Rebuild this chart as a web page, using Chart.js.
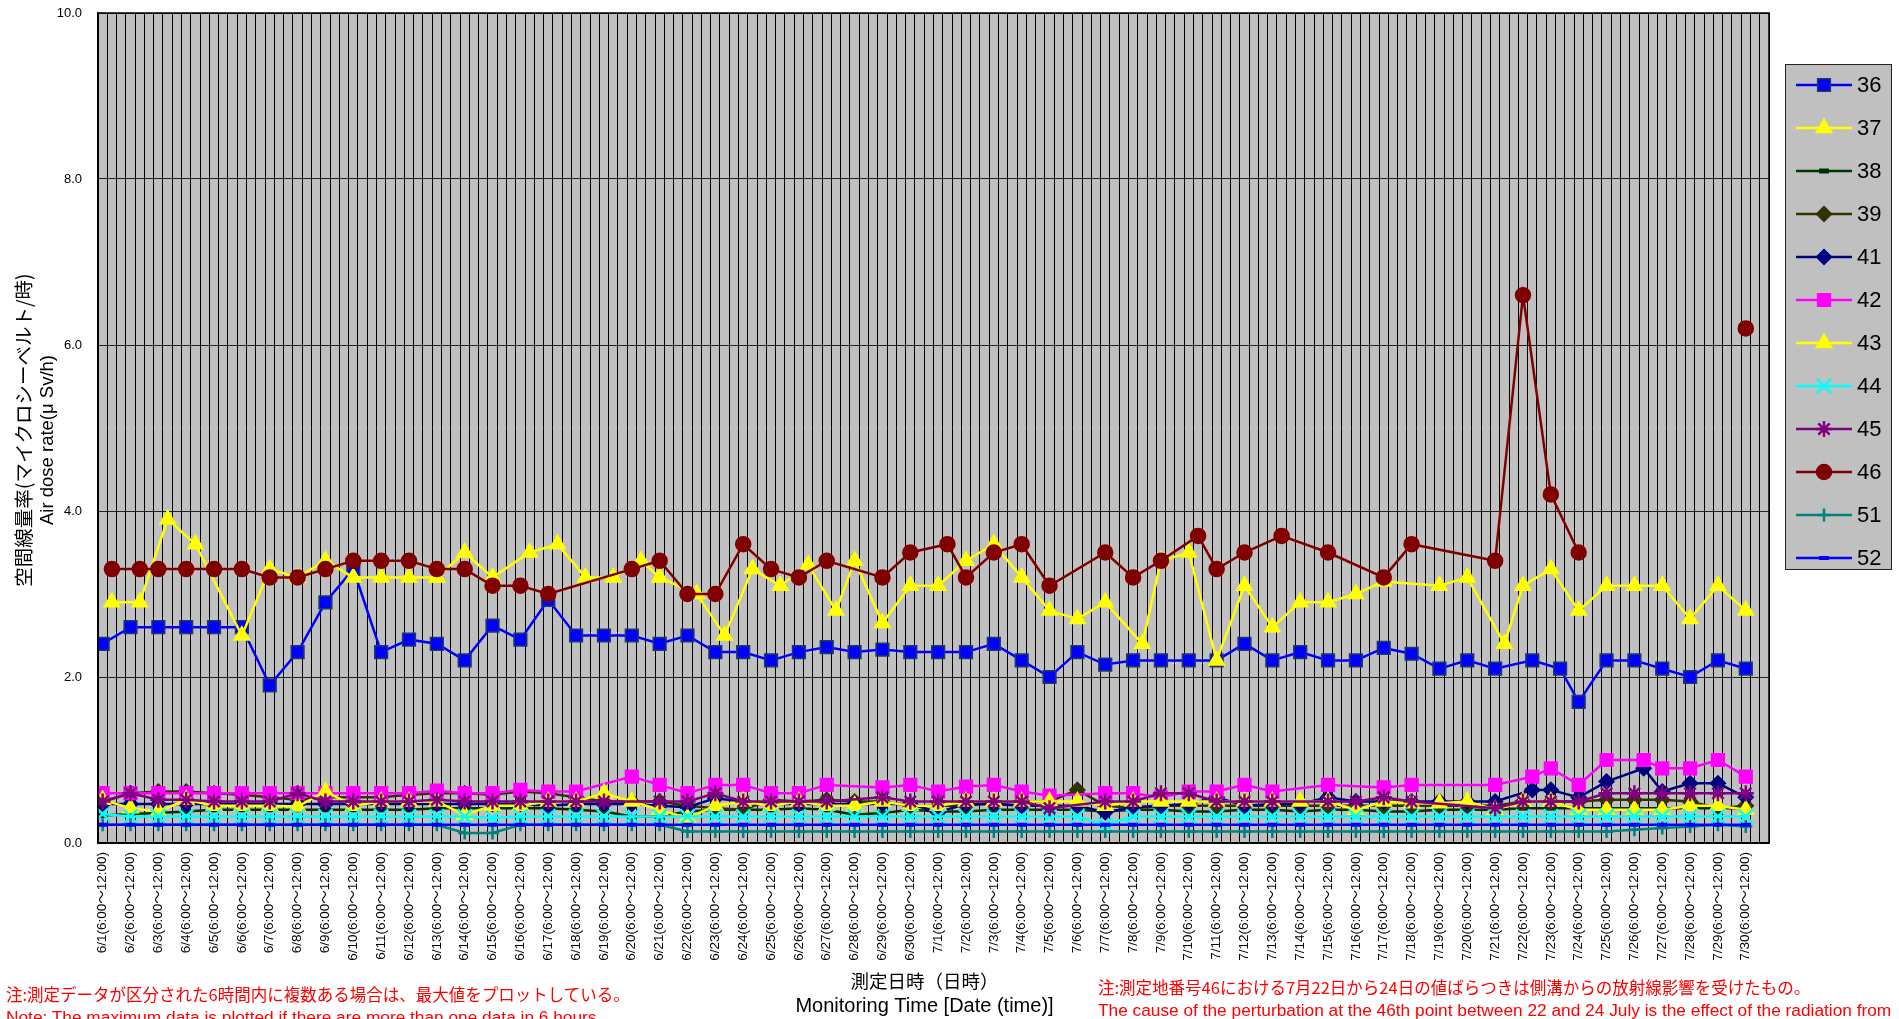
<!DOCTYPE html>
<html lang="ja">
<head>
<meta charset="UTF-8">
<title>空間線量率</title>
<script src="https://cdn.jsdelivr.net/npm/chart.js"></script>
<style>
  body { margin: 0; background: #fff; }
  #wrap { position: relative; width: 1899px; height: 1019px; overflow: hidden; }
  .note { position: absolute; color: #ff0000; white-space: nowrap; font-size: 16.5px; line-height: 22px;
          font-family: 'Noto Sans CJK JP', sans-serif; }
  .note .en { font-family: 'Liberation Sans', Arial, sans-serif; font-size: 17.3px; }
</style>
</head>
<body>
<div id="wrap">
  <canvas id="doseChart" width="1899" height="1019"></canvas>
  <div class="note" style="left:6px; top:983px;">注:測定データが区分された6時間内に複数ある場合は、最大値をプロットしている。<br><span class="en">Note: The maximum data is plotted if there are more than one data in 6 hours.</span></div>
  <div class="note" style="left:1098px; top:976px;">注:測定地番号46における7月22日から24日の値ばらつきは側溝からの放射線影響を受けたもの。<br><span class="en">The cause of the perturbation at the 46th point between 22 and 24 July is the effect of the radiation from</span></div>
</div>
<script>
// measurement days (one tick label per day, 3 grid slots per day)
const days = ['6/1','6/2','6/3','6/4','6/5','6/6','6/7','6/8','6/9','6/10',
  '6/11','6/12','6/13','6/14','6/15','6/16','6/17','6/18','6/19','6/20',
  '6/21','6/22','6/23','6/24','6/25','6/26','6/27','6/28','6/29','6/30',
  '7/1','7/2','7/3','7/4','7/5','7/6','7/7','7/8','7/9','7/10',
  '7/11','7/12','7/13','7/14','7/15','7/16','7/17','7/18','7/19','7/20',
  '7/21','7/22','7/23','7/24','7/25','7/26','7/27','7/28','7/29','7/30'];
const timeRange = '(6:00～12:00)';
const yTicks = [0, 2, 4, 6, 8, 10];

// values per day (µSv/h), null = no measurement
const s36 = [2.4,2.6,2.6,2.6,2.6,2.6,1.9,2.3,2.9,3.3, 2.3,2.45,2.4,2.2,2.62,2.45,2.93,2.5,2.5,2.5,
  2.4,2.5,2.3,2.3,2.2,2.3,2.36,2.3,2.33,2.3, 2.3,2.3,2.4,2.2,2.0,2.3,2.15,2.2,2.2,2.2,
  2.2,2.4,2.2,2.3,2.2,2.2,2.35,2.28,2.1,2.2, 2.1,2.2,2.1,1.7,2.2,2.2,2.1,2.0,2.2,2.1];
const s37 = [2.9,2.9,3.9,3.6,null,2.5,3.3,3.2,3.4,3.2, 3.2,3.2,3.2,3.5,3.2,3.5,3.6,3.2,3.2,3.4,
  3.2,3.0,2.5,3.3,3.1,3.35,2.8,3.4,2.65,3.1, 3.1,3.4,3.6,3.2,2.8,2.7,2.9,2.4,3.4,3.5,
  2.2,3.1,2.6,2.9,2.9,3.0,3.15,null,3.1,3.2, 2.4,3.1,3.3,2.8,3.1,3.1,3.1,2.7,3.1,2.8];
const s38 = [0.33,0.35,0.36,0.38,0.4,0.4,0.4,0.4,0.4,0.4, 0.4,0.4,0.42,0.42,0.42,0.42,0.42,0.4,0.38,0.32,
  0.32,0.38,0.4,0.4,0.4,0.42,0.4,0.34,0.36,0.4, 0.38,0.38,0.4,0.4,0.4,0.4,0.38,0.4,0.4,0.38,
  0.38,0.4,0.4,0.38,0.4,0.4,0.38,0.38,0.4,0.4, 0.4,0.42,0.42,0.42,0.42,0.42,0.42,0.42,0.42,0.42];
const s39 = [0.5,0.6,0.62,0.62,0.6,0.58,0.55,0.52,0.55,0.55, 0.55,0.58,0.6,0.6,0.58,0.62,0.6,0.55,0.5,0.5,
  0.5,0.45,0.42,0.4,0.52,0.5,0.52,0.5,0.5,0.45, 0.45,0.45,0.48,0.5,0.5,0.64,0.45,0.42,0.45,0.45,
  0.45,0.45,0.45,0.45,0.45,0.45,0.45,0.45,0.45,0.45, 0.45,0.5,0.5,0.5,0.52,0.52,0.52,0.5,0.42,0.45];
const s41 = [0.47,0.47,0.47,0.47,0.47,0.47,0.47,0.47,0.47,0.47, 0.47,0.47,0.47,0.47,0.47,0.47,0.45,0.47,0.47,0.47,
  0.45,0.43,0.54,0.5,0.47,0.47,0.47,0.47,0.47,0.47, 0.37,0.47,0.47,0.45,0.45,0.45,0.37,0.43,0.45,0.47,
  0.55,0.45,0.47,0.47,0.55,0.5,0.5,0.5,0.5,0.5, 0.5,0.64,0.64,0.55,0.74,0.9,0.62,0.72,0.72,0.55];
const s42 = [0.6,0.6,0.6,0.6,0.6,0.6,0.6,0.6,0.6,0.6, 0.6,0.6,0.63,0.6,0.6,0.64,0.62,0.62,null,0.8,
  0.7,0.6,0.7,0.7,0.6,0.6,0.7,null,0.67,0.7, 0.62,0.68,0.7,0.62,0.57,null,0.6,0.6,0.55,0.62,
  0.62,0.7,0.62,null,0.7,null,0.67,0.7,null,null, 0.7,0.8,0.9,0.7,1.0,1.0,0.9,0.9,1.0,0.8];
const s43 = [0.52,0.42,0.38,0.52,0.45,0.45,0.45,0.44,0.62,0.45, 0.5,0.5,0.5,0.34,0.45,0.45,0.5,0.5,0.6,0.5,
  0.4,0.3,0.45,0.5,0.45,0.5,0.45,0.45,0.5,0.45, 0.45,0.5,0.5,0.5,0.5,0.5,0.45,0.5,0.5,0.5,
  0.5,0.5,0.5,0.5,0.5,0.4,0.5,0.48,0.48,0.5, 0.4,0.5,0.5,0.4,0.4,0.4,0.4,0.45,0.45,0.4];
const s44 = [0.35,0.32,0.32,0.32,0.32,0.32,0.32,0.32,0.32,0.32, 0.32,0.32,0.32,0.32,0.3,0.32,0.32,0.32,0.32,0.32,
  0.32,0.32,0.32,0.32,0.32,0.32,0.32,0.32,0.32,0.32, 0.32,0.32,0.32,0.32,0.32,0.32,0.22,0.32,0.32,0.32,
  0.32,0.32,0.32,0.32,0.32,0.32,0.32,0.32,0.32,0.32, 0.32,0.32,0.32,0.32,0.32,0.32,0.32,0.32,0.32,0.32];
const s45 = [0.5,0.6,0.52,0.52,0.5,0.5,0.5,0.6,0.5,0.5, 0.5,0.5,0.52,0.5,0.5,0.5,0.5,0.5,0.5,null,
  0.5,0.5,0.6,0.5,0.5,0.5,0.5,null,0.55,0.5, 0.5,0.5,0.5,0.5,0.42,null,0.5,0.5,0.6,0.6,
  0.5,0.5,0.5,null,0.5,0.5,0.55,0.5,null,null, 0.42,0.5,0.5,0.5,0.6,0.6,0.6,0.6,0.6,0.6];
const s46 = [3.3,3.3,3.3,3.3,3.3,3.3,3.2,3.2,3.3,3.4, 3.4,3.4,3.3,3.3,3.1,3.1,3.0,null,null,3.3,
  3.4,3.0,3.0,3.6,3.3,3.2,3.4,null,3.2,3.5, 3.6,3.2,3.5,3.6,3.1,null,3.5,3.2,3.4,3.7,
  3.3,3.5,3.7,null,3.5,null,3.2,3.6,null,null, 3.4,6.6,4.2,3.5,null,null,null,null,null,6.2];
const s51 = [0.22,0.22,0.22,0.22,0.22,0.22,0.22,0.22,0.22,0.22, 0.22,0.22,0.22,0.12,0.12,0.22,0.22,0.22,0.22,0.22,
  0.22,0.14,0.14,0.14,0.14,0.14,0.14,0.14,0.14,0.14, 0.14,0.14,0.14,0.14,0.14,0.14,0.14,0.14,0.14,0.14,
  0.14,0.14,0.14,0.14,0.14,0.14,0.14,0.14,0.14,0.14, 0.14,0.14,0.14,0.14,0.14,0.16,0.18,0.2,0.22,0.2];
const s52 = [0.22,0.22,0.22,0.22,0.22,0.22,0.22,0.22,0.22,0.22, 0.22,0.22,0.22,0.22,0.22,0.22,0.22,0.22,0.22,0.22,
  0.22,0.22,0.22,0.22,0.22,0.22,0.22,0.22,0.22,0.22, 0.22,0.22,0.22,0.22,0.22,0.22,0.22,0.22,0.22,0.22,
  0.22,0.22,0.22,0.22,0.22,0.22,0.22,0.22,0.22,0.22, 0.22,0.22,0.22,0.22,0.22,0.22,0.22,0.22,0.22,0.22];

// which of the 3 daily slots a reading sits in (day index -> slot), default slot 0
const slot36 = {51: 1, 52: 1};
const slot37 = {0: 1, 1: 1, 2: 1, 3: 1, 15: 1, 16: 1, 17: 1, 18: 1, 19: 1, 21: 1, 22: 1, 23: 1,
  24: 1, 25: 1, 26: 1, 37: 1, 50: 1};
const slot41 = {51: 1, 55: 1};
const slot42 = {51: 1, 55: 1};
const slot46 = {0: 1, 1: 1, 30: 1, 39: 1, 42: 1};

function points(values, slots) {
  const out = [];
  values.forEach((v, i) => {
    if (v !== null) out.push({x: i * 3 + ((slots && slots[i]) || 0) + 0.5, y: v});
  });
  return out;
}

const seriesDefs = [
  {label: '36', data: points(s36, slot36), color: '#0000ff', fill: '#0000ff', edge: '#1f3864', style: 'rect', r: 9},
  {label: '37', data: points(s37, slot37), color: '#ffff00', fill: '#ffff00', edge: '#ffff00', style: 'triangle', r: 9},
  {label: '38', data: points(s38), color: '#003300', fill: '#003300', edge: '#003300', style: 'line', r: 5, bw: 5},
  {label: '39', data: points(s39), color: '#333300', fill: '#333300', edge: '#333300', style: 'rectRot', r: 7.5},
  {label: '41', data: points(s41, slot41), color: '#000080', fill: '#000080', edge: '#000080', style: 'rectRot', r: 7.5},
  {label: '42', data: points(s42, slot42), color: '#ff00ff', fill: '#ff00ff', edge: '#ff00ff', style: 'rect', r: 9},
  {label: '43', data: points(s43), color: '#ffff00', fill: '#ffff00', edge: '#ffff00', style: 'triangle', r: 9},
  {label: '44', data: points(s44), color: '#00ffff', fill: '#00ffff', edge: '#00ffff', style: 'crossRot', r: 10, bw: 2.5},
  {label: '45', data: points(s45), color: '#800080', fill: '#800080', edge: '#800080', style: 'star', r: 8, bw: 2.5},
  {label: '46', data: points(s46, slot46), color: '#800000', fill: '#800000', edge: '#800000', style: 'circle', r: 7.5, gap: 12},
  {label: '51', data: points(s51), color: '#008080', fill: '#008080', edge: '#008080', style: 'cross', r: 6.5, bw: 2.5},
  {label: '52', data: points(s52), color: '#0000ff', fill: '#0000ff', edge: '#0000ff', style: 'line', r: 5, bw: 4}
];

const datasets = seriesDefs.map((s, i) => ({
  label: s.label,
  data: s.data,
  borderColor: s.color,
  borderWidth: 2.5,
  backgroundColor: s.fill,
  pointStyle: s.style,
  pointRadius: s.r,
  pointBackgroundColor: s.fill,
  pointBorderColor: s.edge,
  pointBorderWidth: s.bw || 1.5,
  tension: 0,
  spanGaps: s.gap || true,
  order: seriesDefs.length - i
}));

const plotBackground = {
  id: 'plotBackground',
  beforeDraw(chart) {
    const {ctx, chartArea: a} = chart;
    ctx.save();
    ctx.fillStyle = '#ffffff';
    ctx.fillRect(0, 0, chart.width, chart.height);
    ctx.fillStyle = '#c0c0c0';
    ctx.fillRect(a.left, a.top, a.right - a.left, a.bottom - a.top);
    ctx.restore();
  },
  afterDraw(chart) {
    const {ctx, chartArea: a} = chart;
    ctx.save();
    ctx.strokeStyle = '#000';
    ctx.lineWidth = 1.5;
    ctx.strokeRect(a.left, a.top, a.right - a.left, a.bottom - a.top);
    ctx.restore();
  }
};

// axis titles: two lines each, Japanese + English in different fonts
const axisTitles = {
  id: 'axisTitles',
  afterDraw(chart) {
    const {ctx, chartArea: a} = chart;
    const midY = (a.top + a.bottom) / 2;
    const midX = (a.left + a.right) / 2 - 9;
    ctx.save();
    ctx.fillStyle = '#000';
    ctx.textAlign = 'center';
    ctx.textBaseline = 'middle';
    ctx.save();
    ctx.translate(24, midY + 2);
    ctx.rotate(-Math.PI / 2);
    ctx.font = "19.5px 'Noto Sans CJK JP', sans-serif";
    ctx.fillText('空間線量率(マイクロシーベルト/時)', 0, 0);
    ctx.restore();
    ctx.save();
    ctx.translate(48, midY + 12);
    ctx.rotate(-Math.PI / 2);
    ctx.font = "18.5px 'Liberation Sans', Arial, sans-serif";
    ctx.fillText('Air dose rate(μ Sv/h)', 0, 0);
    ctx.restore();
    ctx.font = "18.5px 'Noto Sans CJK JP', sans-serif";
    ctx.fillText('測定日時（日時）', midX, 981);
    ctx.font = "20px 'Liberation Sans', Arial, sans-serif";
    ctx.fillText('Monitoring Time [Date (time)]', midX, 1006);
    ctx.restore();
  }
};

// line + marker legend box at the right
const sideLegend = {
  id: 'sideLegend',
  afterDraw(chart) {
    const ctx = chart.ctx;
    const left = 1785, top = 64, right = 1891, bottom = 569;
    ctx.save();
    ctx.fillStyle = '#c0c0c0';
    ctx.fillRect(left, top, right - left, bottom - top);
    ctx.strokeStyle = '#222';
    ctx.lineWidth = 1;
    ctx.strokeRect(left + 0.5, top + 0.5, right - left, bottom - top);
    chart.data.datasets.forEach((ds, i) => {
      const y = 85 + i * 43;
      ctx.strokeStyle = ds.borderColor;
      ctx.lineWidth = 2.5;
      ctx.beginPath();
      ctx.moveTo(1796, y);
      ctx.lineTo(1852, y);
      ctx.stroke();
      ctx.fillStyle = ds.pointBackgroundColor;
      ctx.strokeStyle = ds.pointBorderColor;
      ctx.lineWidth = ds.pointBorderWidth;
      Chart.helpers.drawPoint(ctx, {pointStyle: ds.pointStyle, radius: ds.pointRadius, rotation: 0, borderWidth: ds.pointBorderWidth}, 1824, y);
      ctx.fillStyle = '#000';
      ctx.font = "22px 'Liberation Sans', Arial, sans-serif";
      ctx.textBaseline = 'middle';
      ctx.textAlign = 'left';
      ctx.fillText(ds.label, 1857, y + 1);
    });
    ctx.restore();
  }
};

new Chart(document.getElementById('doseChart'), {
  type: 'line',
  data: {datasets: datasets},
  plugins: [plotBackground, axisTitles, sideLegend],
  options: {
    responsive: false,
    animation: false,
    layout: {padding: {top: 13, right: 130, bottom: 0, left: 0}},
    plugins: {legend: {display: false}, tooltip: {enabled: false}},
    scales: {
      x: {
        type: 'linear',
        min: 0, max: days.length * 3,
        afterFit: (s) => { s.height = 176; },
        afterBuildTicks: (s) => { s.ticks = Array.from({length: days.length * 3 + 1}, (_, k) => ({value: k})); },
        grid: {color: '#000', lineWidth: 1, drawTicks: false},
        border: {color: '#000', width: 1.5},
        ticks: {
          autoSkip: false, minRotation: 90, maxRotation: 90, padding: 9, color: '#000',
          labelOffset: 4.6,
          font: {family: "'Liberation Sans', 'Noto Sans CJK JP', sans-serif", size: 13.5},
          callback: (v) => (v % 3 === 0 && v / 3 < days.length) ? days[v / 3] + timeRange : ''
        }
      },
      y: {
        min: 0, max: 10,
        afterFit: (s) => { s.width = 98; },
        afterBuildTicks: (s) => { s.ticks = yTicks.map(v => ({value: v})); },
        grid: {color: '#222', lineWidth: 1, drawTicks: true, tickLength: 16, tickColor: 'rgba(0,0,0,0)'},
        border: {color: '#000', width: 1.5},
        ticks: {
          padding: 0, color: '#000',
          font: {family: "'Liberation Sans', Arial, sans-serif", size: 13},
          callback: (v) => Number(v).toFixed(1)
        }
      }
    }
  }
});
</script>
</body>
</html>
